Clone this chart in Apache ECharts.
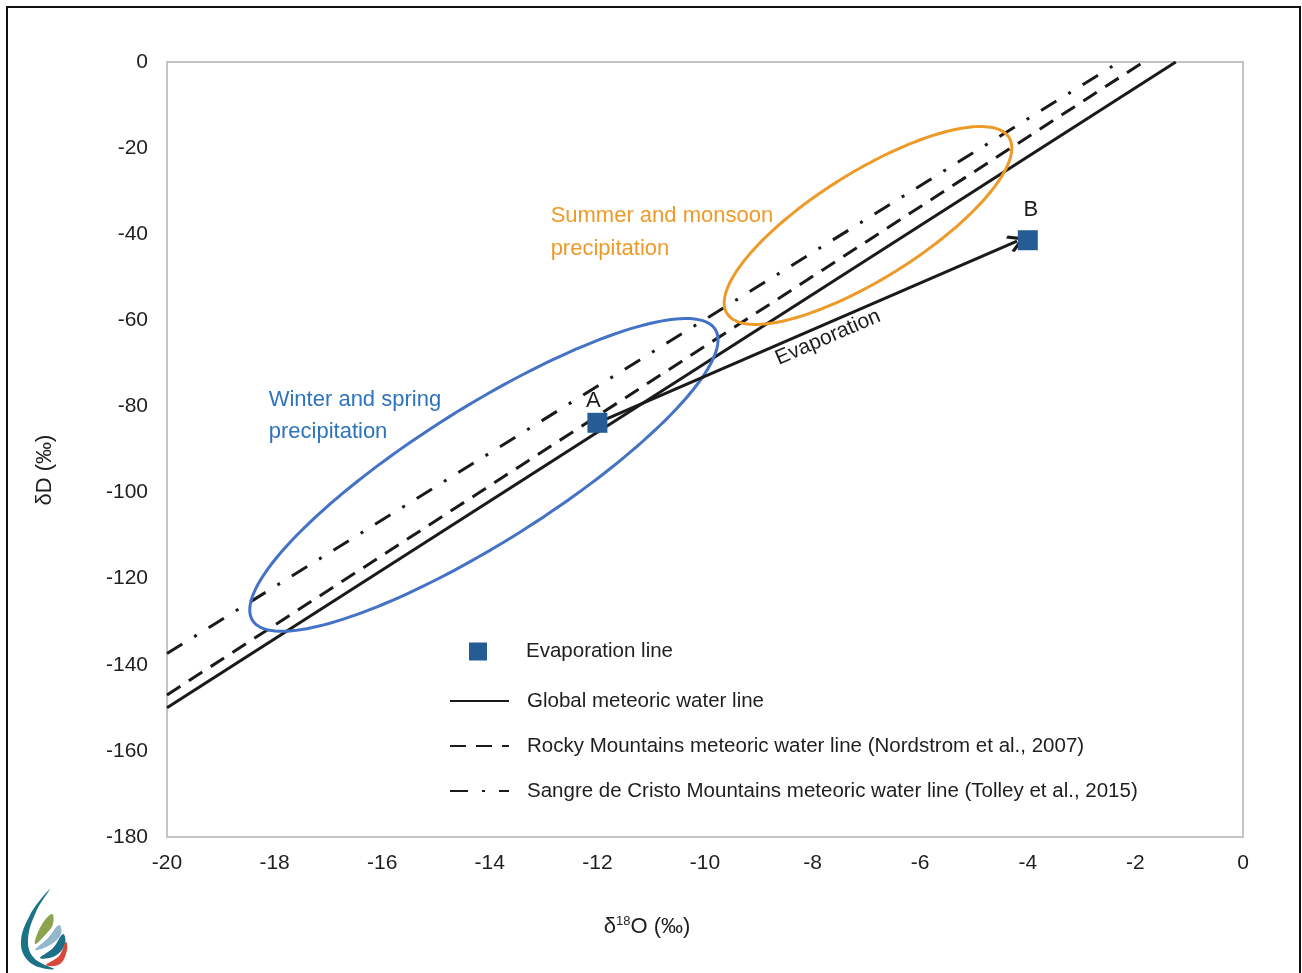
<!DOCTYPE html>
<html><head><meta charset="utf-8">
<script src="https://cdn.jsdelivr.net/npm/echarts@6/dist/echarts.min.js"></script>
<style>html,body{margin:0;padding:0;background:#fff}#c{width:1302px;height:973px}</style>
</head><body><div id="c"></div>
<script>
const FONT = '"Liberation Sans",Arial,sans-serif';

// Axis ticks
const xTickInfo = [-20, 0, 2];    // min, max, step (δ18O)
const yTickInfo = [-180, 0, 20];  // min, max, step (δD)

// Evaporation line points A and B
const evapNames = ['A', 'B'];
const evapX = [-12.0, -4.0];
const evapY = [-83.8, -41.4];
// Arrow from A toward B
const evapArrow = [[-12.0, -83.8], [-4.2, -41.6]];

// Meteoric water lines (end points)
const gmwl = [[-20, -150], [-1.25, 0]];
const rockyMwl = [[-20, -147], [-1.85, 0]];
const sangreMwl = [[-20, -137.4], [-2.3, 0]];

// Ellipses: centre x, centre y, semi-axis vector 1 (dx, dy), semi-axis vector 2 (dx, dy)
const winterEllipse = [-14.11, -95.9, 4.30, 33.8, 0.67, -13.3];
const summerEllipse = [-6.97, -37.97, 2.62, 20.45, 0.53, -10.5];

// Text annotations: x, y (left edge, vertical centre)
const winterLabelPos = [-18.10, -82.4];
const summerLabelPos = [-12.86, -39.6];

const BLUE_SQ = '#245C93';
const BLUE_ELL = '#4472C4';
const ORANGE = '#EE9A28';
const BLUE_TXT = '#2E73BE';
const TXT = '#1e1e1e';
const LINE = '#1a1a1a';

const chart = echarts.init(document.getElementById('c'), null, {renderer: 'canvas'});

const legendNames = [
  'Global meteoric water line',
  'Rocky Mountains meteoric water line (Nordstrom et al., 2007)',
  'Sangre de Cristo Mountains meteoric water line (Tolley et al., 2015)'
];

const option = {
  animation: false,
  backgroundColor: '#fff',
  textStyle: {fontFamily: FONT},
  grid: {left: 167, right: 59, top: 62, bottom: 136, show: true, borderColor: '#c4c4c4', borderWidth: 2, containLabel: false},
  xAxis: {
    type: 'value', min: xTickInfo[0], max: xTickInfo[1], interval: xTickInfo[2],
    axisLine: {show: true, onZero: false, lineStyle: {color: '#c4c4c4', width: 2}},
    axisTick: {show: false}, splitLine: {show: false},
    axisLabel: {fontSize: 21, color: TXT, fontFamily: FONT, margin: 16}
  },
  yAxis: {
    type: 'value', min: yTickInfo[0], max: yTickInfo[1], interval: yTickInfo[2],
    axisLine: {show: true, onZero: false, lineStyle: {color: '#c4c4c4', width: 2}},
    axisTick: {show: false}, splitLine: {show: false},
    axisLabel: {fontSize: 21, color: TXT, fontFamily: FONT, margin: 19}
  },
  legend: [
    {
      data: ['Evaporation line'], left: 469, top: 641, padding: 0, itemWidth: 18, itemHeight: 18,
      itemStyle: {opacity: 1},
      textStyle: {fontSize: 20.5, color: TXT, fontFamily: FONT, padding: [0, 0, 0, 34]},
      selectedMode: false
    },
    {
      data: legendNames, orient: 'vertical', left: 449, top: 689, padding: 0, itemWidth: 59, itemHeight: 14, itemGap: 21,
      itemStyle: {color: 'transparent', borderColor: 'transparent', borderWidth: 0},
      textStyle: {fontSize: 20.5, color: TXT, fontFamily: FONT, lineHeight: 24, padding: [0, 0, 0, 13]},
      selectedMode: false
    }
  ],
  graphic: [
    {type: 'rect', shape: {x: 7, y: 7, width: 1293, height: 1000}, style: {fill: 'none', stroke: '#111', lineWidth: 2}, silent: true, z: 100},
    {type: 'text', x: 647, y: 927, style: {
      text: '{a|δ}{s|18}{a|O (‰)}', align: 'center', verticalAlign: 'middle',
      rich: {a: {fontSize: 22, fontFamily: FONT, fill: TXT}, s: {fontSize: 13, fontFamily: FONT, fill: TXT, verticalAlign: 'top', padding: [0, 0, 11, 0]}}
    }},
    {type: 'text', x: 45, y: 470, rotation: Math.PI / 2, style: {
      text: 'δD (‰)', align: 'center', verticalAlign: 'middle', fontSize: 22, fontFamily: FONT, fill: TXT
    }},
    // logo
    {type: 'polygon', silent: true, shape: {smooth: 0.4, points: [[50,889],[30,915],[21,945],[32,964],[54,969],[34,958],[28,940],[36,912]]}, style: {fill: '#1B7486'}},
    {type: 'polygon', silent: true, shape: {smooth: 0.4, points: [[52,914],[41,926],[35,944],[47,933],[53,924]]}, style: {fill: '#8BA24E'}},
    {type: 'polygon', silent: true, shape: {smooth: 0.4, points: [[59,925],[48,938],[35,950],[50,945],[61,934]]}, style: {fill: '#93B7CB'}},
    {type: 'polygon', silent: true, shape: {smooth: 0.4, points: [[63,934],[53,948],[40,958],[55,956],[65,944]]}, style: {fill: '#1D6F87'}},
    {type: 'polygon', silent: true, shape: {smooth: 0.4, points: [[66,942],[59,956],[46,965],[60,964],[67,950]]}, style: {fill: '#D9473A'}}
  ],
  series: [
    {
      name: 'Global meteoric water line', type: 'line', data: gmwl, symbol: 'none', showSymbol: false, z: 2,
      color: LINE, lineStyle: {color: LINE, width: 3}
    },
    {
      name: legendNames[1], type: 'line', data: rockyMwl, symbol: 'none', showSymbol: false, z: 2,
      color: LINE, lineStyle: {color: LINE, width: 3, type: [16, 10]}
    },
    {
      name: legendNames[2], type: 'line', data: sangreMwl, symbol: 'none', showSymbol: false, z: 2,
      color: LINE, lineStyle: {color: LINE, width: 3, type: [18, 14, 3, 14]}
    },
    {
      type: 'custom', coordinateSystem: 'cartesian2d', silent: true, z: 3,
      encode: {x: 0, y: 1},
      data: [winterEllipse.concat([0]), summerEllipse.concat([1])],
      renderItem: function (params, api) {
        const cx = api.value(0), cy = api.value(1);
        const ux = api.value(2), uy = api.value(3), vx = api.value(4), vy = api.value(5);
        const col = api.value(6) === 0 ? BLUE_ELL : ORANGE;
        const pts = [];
        for (let k = 0; k < 180; k++) {
          const t = k / 180 * 2 * Math.PI;
          pts.push(api.coord([cx + ux * Math.cos(t) + vx * Math.sin(t), cy + uy * Math.cos(t) + vy * Math.sin(t)]));
        }
        return {type: 'polygon', shape: {points: pts}, style: {fill: 'none', stroke: col, lineWidth: 3}};
      }
    },
    {
      type: 'lines', coordinateSystem: 'cartesian2d', z: 4, silent: true,
      symbol: ['none', 'path://M10,0 L20,12 L17.5,14 L10,5 L2.5,14 L0,12 Z'], symbolSize: [0, 18],
      lineStyle: {color: LINE, width: 3, opacity: 1},
      label: {show: true, position: 'insideMiddleBottom', formatter: 'Evaporation', fontSize: 21, color: TXT, fontFamily: FONT, distance: 3, offset: [18, 0]},
      data: [{coords: evapArrow}]
    },
    {
      name: 'Evaporation line', type: 'scatter', symbol: 'rect', symbolSize: 20, z: 5,
      itemStyle: {color: BLUE_SQ, opacity: 1},
      label: {show: true, position: 'top', formatter: p => p.data.name, fontSize: 22, color: TXT, fontFamily: FONT, distance: 3, opacity: 1},
      data: evapX.map((x, i) => ({value: [x, evapY[i]], name: evapNames[i],
        label: {offset: i === 0 ? [-4, 2] : [3, -6]}}))
    },
    {
      type: 'scatter', symbolSize: 1, z: 6, silent: true,
      itemStyle: {color: 'transparent', opacity: 1},
      label: {show: true, position: [0, 0], align: 'left', verticalAlign: 'middle', fontSize: 22, fontFamily: FONT, opacity: 1},
      data: [
        {value: winterLabelPos, label: {formatter: 'Winter and spring\nprecipitation', color: BLUE_TXT, lineHeight: 32}},
        {value: summerLabelPos, label: {formatter: 'Summer and monsoon\nprecipitation', color: ORANGE, lineHeight: 33}}
      ]
    }
  ]
};
chart.setOption(option);
</script>
</body></html>
